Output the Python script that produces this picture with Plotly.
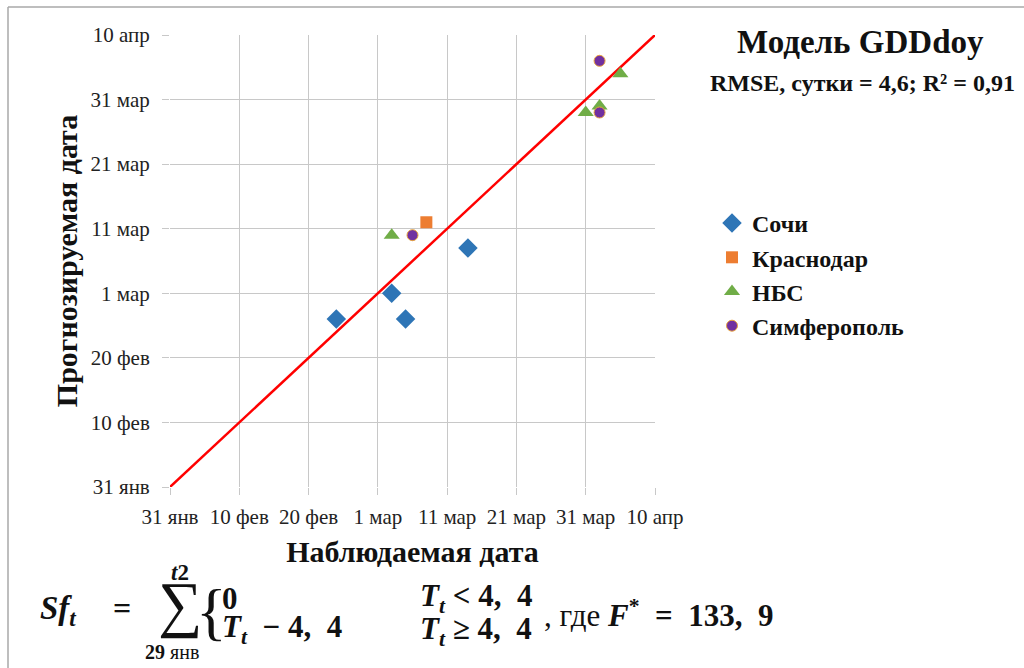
import plotly.graph_objects as go

# Даты как номер дня в году (високосный год): 31 янв = 31 ... 10 апр = 101
tick_vals = [31, 41, 51, 61, 71, 81, 91, 101]
tick_text = ["31 янв", "10 фев", "20 фев", "1 мар", "11 мар", "21 мар", "31 мар", "10 апр"]

sochi_obs = [55, 63, 65, 74]
sochi_pred = [57, 61, 57, 68]

krasnodar_obs = [68]
krasnodar_pred = [72]

nbs_obs = [63, 91, 93, 96]
nbs_pred = [70, 89, 90, 95]

simf_obs = [66, 93, 93]
simf_pred = [70, 97, 89]

line_range = [31, 101]

SERIF = "Liberation Serif"
SP = "&nbsp;"

# plot area in pixels
L, R, T, B = 170, 655, 35, 487


def px(x):
    return (x - L) / (R - L)


def py(y):
    return (B - y) / (B - T)


fig = go.Figure()

fig.add_trace(go.Scatter(
    x=line_range, y=line_range, mode="lines",
    line=dict(color="#ff0000", width=2.5),
    showlegend=False, hoverinfo="skip"
))

fig.add_trace(go.Scatter(
    x=sochi_obs, y=sochi_pred, mode="markers", name="<b>Сочи</b>", legendgroup="a",
    marker=dict(symbol="diamond", size=15, color="#2e75b6")
))
fig.add_trace(go.Scatter(
    x=krasnodar_obs, y=krasnodar_pred, mode="markers", name="<b>Краснодар</b>", legendgroup="b",
    marker=dict(symbol="square", size=12, color="#ed7d31")
))
fig.add_trace(go.Scatter(
    x=nbs_obs, y=nbs_pred, mode="markers", name="<b>НБС</b>", legendgroup="c",
    marker=dict(symbol="triangle-up", size=14, color="#70ad47")
))
fig.add_trace(go.Scatter(
    x=simf_obs, y=simf_pred, mode="markers", name="<b>Симферополь</b>", legendgroup="d",
    marker=dict(symbol="circle", size=11, color="#7030a0",
                line=dict(color="#e8a33c", width=1))
))

axis_common = dict(
    range=line_range,
    tickvals=tick_vals,
    ticktext=tick_text,
    showgrid=True,
    gridcolor="#c8c8c8",
    gridwidth=1,
    zeroline=False,
    showline=False,
    ticks="outside",
    ticklen=7,
    tickcolor="#c8c8c8",
    tickfont=dict(family=SERIF, size=21, color="#222"),
)

fig.update_xaxes(**axis_common, ticklabelstandoff=4,
                 title=dict(text="<b>Наблюдаемая дата</b>",
                            font=dict(family=SERIF, size=30, color="#111"),
                            standoff=12))
fig.update_yaxes(**axis_common, ticklabelstandoff=8,
                 title=dict(text="<b>Прогнозируемая дата</b>",
                            font=dict(family=SERIF, size=30, color="#111"),
                            standoff=4))

annotations = [
    dict(x=px(860), y=py(42), text="<b>Модель GDDdoy</b>",
         font=dict(size=33)),
    dict(x=px(862), y=py(83), text="<b>RMSE, сутки = 4,6; R² = 0,91</b>",
         font=dict(size=24)),
    # формула
    dict(x=px(38), y=py(610), xanchor="left",
         text="<b><i>Sf</i><sub><i>t</i></sub></b>",
         font=dict(size=33)),
    dict(x=px(122), y=py(608), text="<b>=</b>",
         font=dict(size=32)),
    dict(x=px(180), y=py(604), text="∑",
         font=dict(size=62)),
    dict(x=px(180), y=py(572), text="<b><i>t</i>2</b>",
         font=dict(size=23)),
    dict(x=px(172), y=py(652), text="<b>29</b> янв",
         font=dict(size=20)),
    dict(x=px(211), y=py(611), text="{",
         font=dict(size=64)),
    dict(x=px(220), y=py(598), xanchor="left", text="<b>0</b>",
         font=dict(size=31)),
    dict(x=px(220), y=py(629), xanchor="left",
         text=f"<b><i>T</i><sub><i>t</i></sub>{SP}{SP}−{SP}4,{SP}{SP}4</b>",
         font=dict(size=31)),
    dict(x=px(418), y=py(598), xanchor="left",
         text=f"<b><i>T</i><sub><i>t</i></sub>{SP}&lt;{SP}4,{SP}{SP}4</b>",
         font=dict(size=31)),
    dict(x=px(418), y=py(631), xanchor="left",
         text=f"<b><i>T</i><sub><i>t</i></sub>{SP}≥{SP}4,{SP}{SP}4</b>",
         font=dict(size=31)),
    dict(x=px(542), y=py(613), xanchor="left",
         text=f", где <b><i>F</i><sup>*</sup>{SP}{SP}={SP}{SP}133,{SP}{SP}9</b>",
         font=dict(size=31)),
]
for a in annotations:
    a.update(xref="paper", yref="paper", showarrow=False)
    a["font"].update(family=SERIF, color="#111")
    a.setdefault("xanchor", "center")
    a.setdefault("yanchor", "middle")

# рамка слайда
shapes = [
    dict(type="line", xref="paper", yref="paper",
         x0=px(8), y0=py(7), x1=px(1030), y1=py(7),
         line=dict(color="#a8a8a8", width=1.5)),
    dict(type="line", xref="paper", yref="paper",
         x0=px(8), y0=py(7), x1=px(8), y1=py(680),
         line=dict(color="#a8a8a8", width=1.5)),
]

fig.update_layout(
    width=1024,
    height=668,
    margin=dict(l=L, r=1024 - R, t=T, b=668 - B),
    font=dict(family=SERIF, color="#111"),
    plot_bgcolor="white",
    paper_bgcolor="white",
    annotations=annotations,
    shapes=shapes,
    legend=dict(
        x=px(712), y=py(201), xanchor="left", yanchor="top",
        font=dict(family=SERIF, size=24, color="#111"),
        tracegroupgap=0,
        bgcolor="rgba(0,0,0,0)",
        itemwidth=30,
    ),
)

fig.write_html("out.html", config={"displayModeBar": False},
               post_script="document.body.style.margin='0';document.body.style.overflow='hidden';")
